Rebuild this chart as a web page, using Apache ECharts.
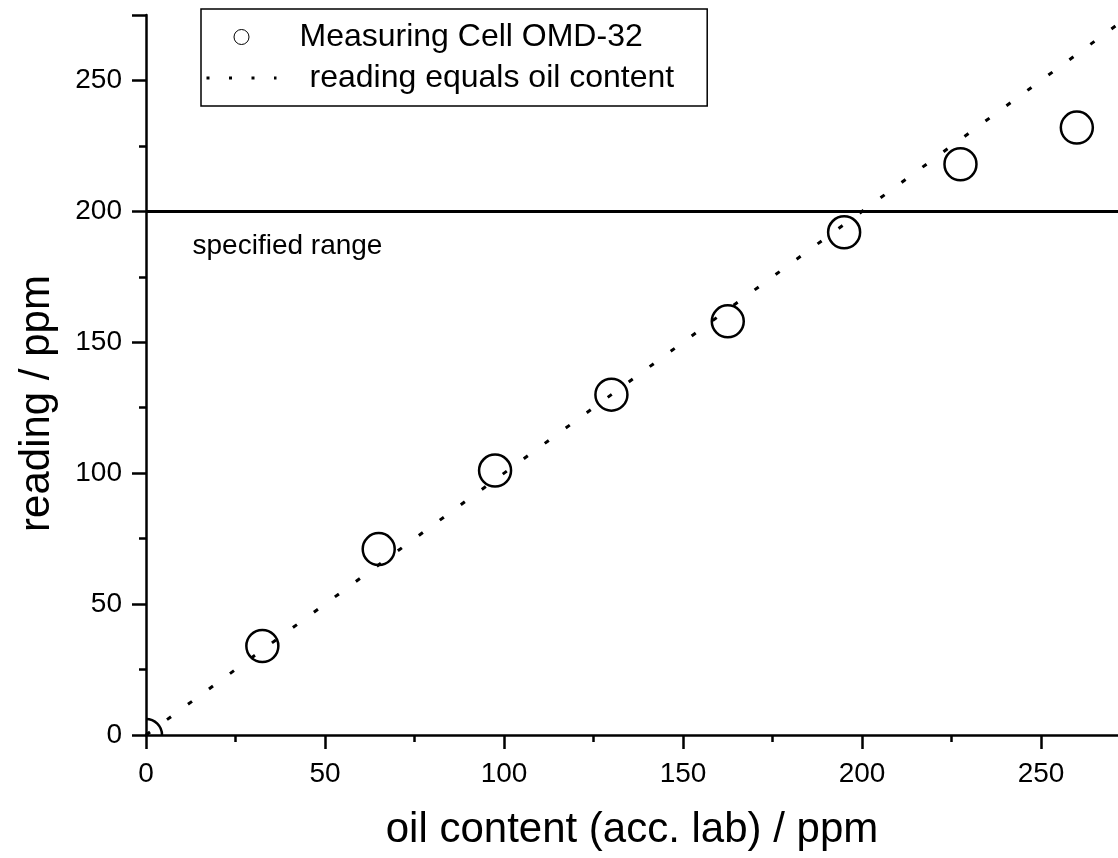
<!DOCTYPE html>
<html>
<head>
<meta charset="utf-8">
<script src="https://cdn.jsdelivr.net/npm/echarts@6/dist/echarts.min.js"></script>
<style>
html,body{margin:0;padding:0;background:#fff;}
#chart{width:1118px;height:858px;}
</style>
</head>
<body>
<div id="chart"></div>
<script>
// ---- data ----
const oilContent = [0, 32.5, 65, 97.5, 130, 162.5, 195, 227.5, 260];
const reading = [0, 34, 71, 101, 130, 158, 192, 218, 232];
const identityLine = [[0, 0], [300, 300]];
const specifiedLimit = 200;
const xTickValues = [0, 50, 100, 150, 200, 250];
const seriesNames = ['Measuring Cell OMD-32', 'reading equals oil content'];
const xTitle = 'oil content (acc. lab) / ppm';
const yTitle = 'reading / ppm';
const rangeLabel = 'specified range';

const FONT = '"Liberation Sans", Arial, sans-serif';
const chart = echarts.init(document.getElementById('chart'), null, {renderer: 'canvas'});

const points = oilContent.map((x, i) => [x, reading[i]]);

const axisCommon = {
  type: 'value',
  interval: 50,
  axisLine: {show: true, lineStyle: {color: '#000', width: 2.5}},
  axisTick: {show: true, inside: false, length: 14, lineStyle: {color: '#000', width: 2.5}},
  minorTick: {show: true, splitNumber: 2, length: 7, lineStyle: {color: '#000', width: 2.5}},
  splitLine: {show: false},
  axisLabel: {color: '#000', fontSize: 28, fontFamily: FONT},
  nameTextStyle: {color: '#000', fontSize: 42, fontFamily: FONT},
  nameLocation: 'middle'
};

chart.setOption({
  animation: false,
  backgroundColor: '#fff',
  grid: {left: 146, top: 15, right: 0, bottom: 123, containLabel: false},
  xAxis: Object.assign({}, axisCommon, {
    min: 0, max: 271.5, name: xTitle, nameGap: 74,
    axisTick: Object.assign({}, axisCommon.axisTick, {customValues: xTickValues}),
    axisLabel: Object.assign({}, axisCommon.axisLabel, {margin: 25, customValues: xTickValues})
  }),
  yAxis: Object.assign({}, axisCommon, {
    min: 0, max: 275, name: yTitle, nameGap: 88,
    nameTextStyle: Object.assign({}, axisCommon.nameTextStyle, {padding: [0, 57, 0, 0]}),
    axisLabel: Object.assign({}, axisCommon.axisLabel, {margin: 24, showMaxLabel: false})
  }),
  legend: {
    orient: 'vertical',
    left: 201, top: 9,
    borderColor: '#000', borderWidth: 1.5,
    padding: [12, 33, 12, 4],
    itemWidth: 70, itemHeight: 15, itemGap: 9,
    selectedMode: false,
    textStyle: {color: '#000', fontSize: 32, fontFamily: FONT, lineHeight: 32},
    data: [
      {name: seriesNames[0], icon: 'circle',
       itemStyle: {color: '#fff', borderColor: '#000', borderWidth: 1},
       textStyle: {padding: [0, 0, 0, 18]}},
      {name: seriesNames[1],
       itemStyle: {color: 'rgba(0,0,0,0)', borderColor: 'rgba(0,0,0,0)', borderWidth: 0},
       lineStyle: {color: '#000', width: 3, type: [3, 19.5]},
       textStyle: {padding: [0, 0, 0, 28]}}
    ]
  },
  series: [
    {
      name: seriesNames[1],
      type: 'line',
      data: identityLine,
      symbol: 'none',
      clip: true,
      z: 2,
      lineStyle: {color: '#000', width: 3, type: [5, 21]},
      itemStyle: {color: '#000'},
      markLine: {
        silent: true,
        symbol: 'none',
        label: {show: false},
        lineStyle: {color: '#000', width: 3, type: 'solid'},
        data: [{yAxis: specifiedLimit}]
      }
    },
    {
      name: seriesNames[0],
      type: 'custom',
      clip: true,
      z: 3,
      data: points,
      itemStyle: {color: '#fff', borderColor: '#000'},
      renderItem: function (params, api) {
        const c = api.coord([api.value(0), api.value(1)]);
        return {
          type: 'circle',
          shape: {cx: c[0], cy: c[1], r: 16},
          style: {fill: 'none', stroke: '#000', lineWidth: 2.5}
        };
      }
    }
  ]
});

const labelPos = chart.convertToPixel({gridIndex: 0}, [13, 186.5]);
chart.setOption({
  graphic: [{
    type: 'text',
    x: labelPos[0], y: labelPos[1],
    style: {text: rangeLabel, fill: '#000', fontSize: 28, fontFamily: FONT, verticalAlign: 'middle', align: 'left'}
  }]
});
</script>
</body>
</html>
